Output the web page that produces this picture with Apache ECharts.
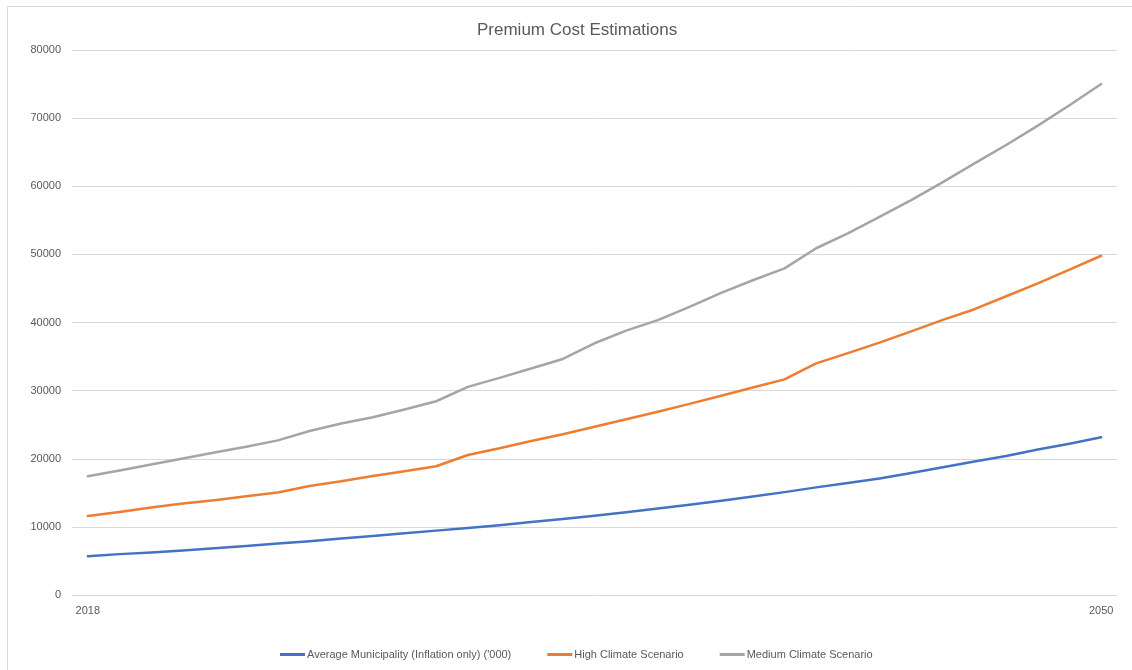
<!DOCTYPE html>
<html>
<head>
<meta charset="utf-8">
<script src="https://cdn.jsdelivr.net/npm/echarts@6/dist/echarts.min.js"></script>
<style>
  html, body { margin: 0; padding: 0; background: #ffffff; }
  #chart { width: 1132px; height: 670px; }
</style>
</head>
<body>
<div id="chart"></div>
<script>
const years = ['2018','2019','2020','2021','2022','2023','2024','2025','2026','2027','2028',
  '2029','2030','2031','2032','2033','2034','2035','2036','2037','2038','2039','2040',
  '2041','2042','2043','2044','2045','2046','2047','2048','2049','2050'];

const averageMunicipality = [5700, 6000, 6250, 6550, 6850, 7200, 7550, 7900, 8300, 8650, 9050,
  9450, 9850, 10250, 10700, 11150, 11650, 12150, 12700, 13250, 13850, 14450, 15100,
  15800, 16450, 17100, 17900, 18750, 19600, 20400, 21350, 22200, 23150];

const highClimate = [11600, 12190, 12830, 13420, 13910, 14500, 15040, 16010, 16690, 17480, 18160,
  18900, 20550, 21550, 22600, 23600, 24700, 25800, 26900, 28050, 29250, 30450, 31650,
  34000, 35500, 37050, 38700, 40380, 41950, 43850, 45750, 47750, 49800];

const mediumClimate = [17430, 18260, 19150, 20030, 20910, 21750, 22700, 24080, 25170, 26100, 27220,
  28440, 30550, 31870, 33240, 34650, 36950, 38800, 40340, 42300, 44350, 46200, 47950,
  50900, 53070, 55520, 57960, 60600, 63350, 66050, 68900, 71900, 75000];

const yTicks = { min: 0, max: 80000, interval: 10000 };

const seriesNames = ['Average Municipality (Inflation only) (\'000)', 'High Climate Scenario', 'Medium Climate Scenario'];
const seriesColors = ['#4472C4', '#ED7D31', '#A5A5A5'];
const seriesData = [averageMunicipality, highClimate, mediumClimate];

const chart = echarts.init(document.getElementById('chart'), null, { renderer: 'canvas' });
const font = 'Liberation Sans, Arial, sans-serif';

chart.setOption({
  animation: false,
  backgroundColor: '#ffffff',
  graphic: [{
    type: 'rect',
    shape: { x: 7.5, y: 6.5, width: 1140, height: 700 },
    style: { fill: 'none', stroke: '#d9d9d9', lineWidth: 1 },
    silent: true
  }],
  title: {
    text: 'Premium Cost Estimations',
    left: 477,
    top: 22,
    padding: 0,
    textStyle: { fontFamily: font, fontSize: 17, fontWeight: 'normal', color: '#595959' }
  },
  legend: {
    bottom: 10,
    left: 280,
    padding: 0,
    itemGap: 36,
    itemWidth: 25,
    itemHeight: 3,
    icon: 'rect',
    textStyle: { fontFamily: font, fontSize: 11, color: '#595959', padding: [0, 0, 0, -3] },
    data: seriesNames
  },
  grid: { left: 72, right: 15, top: 50, bottom: 75, containLabel: false },
  xAxis: {
    type: 'category',
    data: years,
    boundaryGap: true,
    axisLine: { show: true, lineStyle: { color: '#d9d9d9', width: 1 } },
    axisTick: { show: false },
    axisLabel: {
      interval: function (index) { return index === 0 || index === years.length - 1; },
      fontFamily: font, fontSize: 11, color: '#595959', margin: 10
    },
    splitLine: { show: false }
  },
  yAxis: {
    type: 'value',
    min: yTicks.min, max: yTicks.max, interval: yTicks.interval,
    axisLine: { show: false },
    axisTick: { show: false },
    axisLabel: {
      fontFamily: font, fontSize: 11, color: '#595959', margin: 11,
      formatter: function (v) { return String(v); }
    },
    splitLine: { lineStyle: { color: '#d9d9d9', width: 1 } }
  },
  series: seriesNames.map((name, i) => ({
    name: name,
    type: 'line',
    data: seriesData[i],
    showSymbol: false,
    symbol: 'none',
    smooth: false,
    lineStyle: { color: seriesColors[i], width: 2.5, cap: 'round', join: 'round' },
    itemStyle: { color: seriesColors[i] }
  }))
});
</script>
</body>
</html>
